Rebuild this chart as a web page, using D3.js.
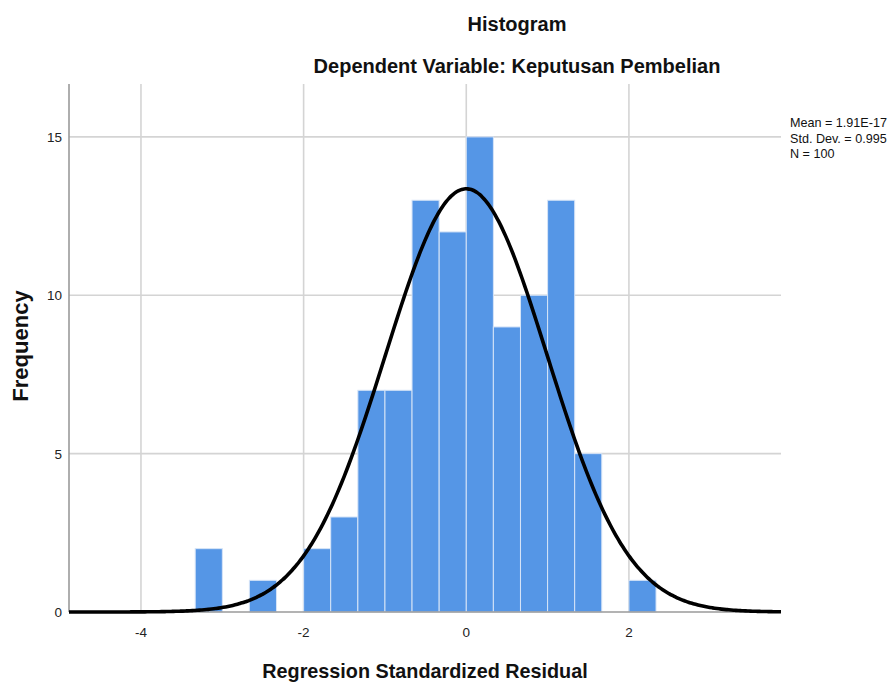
<!DOCTYPE html>
<html>
<head>
<meta charset="utf-8">
<script src="https://cdn.jsdelivr.net/npm/d3@7"></script>
<style>
  html, body { margin: 0; padding: 0; background: #fff; }
  svg { display: block; font-family: "Liberation Sans", Arial, sans-serif; }
</style>
</head>
<body>
<svg id="chart" width="896" height="684"></svg>
<script>
// ---- data ----
const binStarts = [-3.333, -3.000, -2.667, -2.333, -2.000, -1.667, -1.333, -1.000, -0.667, -0.333, 0.000, 0.333, 0.667, 1.000, 1.333, 1.667, 2.000];
const binCounts = [2, 0, 1, 0, 2, 3, 7, 7, 13, 12, 15, 9, 10, 13, 5, 0, 1];
const binWidth = 0.3333;
const xTicks = [-4, -2, 0, 2];
const yTicks = [0, 5, 10, 15];
const statMean = 1.91e-17;
const statSd = 0.995;
const statN = 100;
const legendLines = ["Mean = 1.91E-17", "Std. Dev. = 0.995", "N = 100"];
const titleText = "Histogram";
const subtitleText = "Dependent Variable: Keputusan Pembelian";
const xLabel = "Regression Standardized Residual";
const yLabel = "Frequency";

// ---- layout ----
const plot = { left: 69, right: 781, top: 84, bottom: 612 };
const svg = d3.select("#chart");

const x = d3.scaleLinear().domain([-4.885, 3.87]).range([plot.left, plot.right]);
const y = d3.scaleLinear().domain([0, 16.67]).range([plot.bottom, plot.top]);

// gridlines
const grid = svg.append("g");
grid.selectAll("line.vx").data(xTicks).join("line")
  .attr("x1", d => x(d)).attr("x2", d => x(d))
  .attr("y1", plot.top).attr("y2", plot.bottom)
  .attr("stroke", "#d4d4d4").attr("stroke-width", 1.6);
grid.selectAll("line.hy").data(yTicks.filter(d => d > 0)).join("line")
  .attr("x1", plot.left).attr("x2", plot.right)
  .attr("y1", d => y(d)).attr("y2", d => y(d))
  .attr("stroke", "#d4d4d4").attr("stroke-width", 1.6);

// bars
const bins = binStarts.map((s, i) => ({ x0: s, x1: s + binWidth, n: binCounts[i] })).filter(d => d.n > 0);
svg.append("g").selectAll("rect").data(bins).join("rect")
  .attr("x", d => x(d.x0))
  .attr("width", d => x(d.x1) - x(d.x0))
  .attr("y", d => y(d.n))
  .attr("height", d => y(0) - y(d.n))
  .attr("fill", "#5596e6")
  .attr("stroke", "#d6e4f7")
  .attr("stroke-width", 1);

// axes lines
svg.append("line").attr("x1", plot.left).attr("x2", plot.left)
  .attr("y1", plot.top).attr("y2", plot.bottom)
  .attr("stroke", "#9a9a9a").attr("stroke-width", 1.6);
svg.append("line").attr("x1", plot.left).attr("x2", plot.right)
  .attr("y1", plot.bottom).attr("y2", plot.bottom)
  .attr("stroke", "#9a9a9a").attr("stroke-width", 1.6);

// normal curve
const pdf = v => Math.exp(-0.5 * Math.pow((v - statMean) / statSd, 2)) / (statSd * Math.sqrt(2 * Math.PI));
const xs = d3.range(0, 301).map(i => x.domain()[0] + (x.domain()[1] - x.domain()[0]) * i / 300);
svg.append("path")
  .datum(xs)
  .attr("d", d3.line().x(d => x(d)).y(d => y(statN * binWidth * pdf(d))).curve(d3.curveBasis))
  .attr("fill", "none").attr("stroke", "#000").attr("stroke-width", 3.6);

// tick labels
svg.append("g").selectAll("text").data(xTicks).join("text")
  .attr("x", d => x(d)).attr("y", 637)
  .attr("text-anchor", "middle").attr("font-size", 13.5).attr("fill", "#222")
  .text(d => d);
svg.append("g").selectAll("text").data(yTicks).join("text")
  .attr("x", 62).attr("y", d => y(d) + 5)
  .attr("text-anchor", "end").attr("font-size", 13.5).attr("fill", "#222")
  .text(d => d);

// titles
svg.append("text").attr("x", 517).attr("y", 31).attr("text-anchor", "middle")
  .attr("font-size", 20).attr("font-weight", "bold").attr("fill", "#111").text(titleText);
svg.append("text").attr("x", 517).attr("y", 73).attr("text-anchor", "middle")
  .attr("font-size", 20).attr("font-weight", "bold").attr("fill", "#111").text(subtitleText);
svg.append("text").attr("x", 425).attr("y", 678).attr("text-anchor", "middle")
  .attr("font-size", 19.8).attr("font-weight", "bold").attr("fill", "#111").text(xLabel);
svg.append("text").attr("transform", "translate(28,346) rotate(-90)").attr("text-anchor", "middle")
  .attr("font-size", 22).attr("font-weight", "bold").attr("fill", "#111").text(yLabel);

// legend
svg.append("g").selectAll("text").data(legendLines).join("text")
  .attr("x", 790).attr("y", (d, i) => 127 + i * 15.5)
  .attr("font-size", 12.6).attr("fill", "#111")
  .text(d => d);
</script>
</body>
</html>
